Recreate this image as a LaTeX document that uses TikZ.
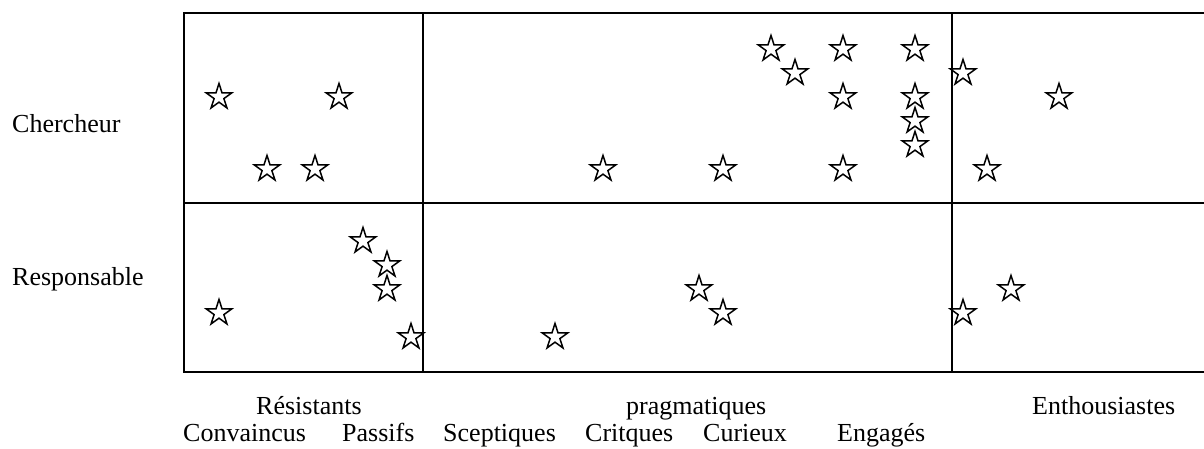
\documentclass[tikz,border=0pt]{standalone}
\usepackage{fontspec}
\setmainfont{Liberation Serif}
\usetikzlibrary{shapes.geometric}
\begin{document}
\begin{tikzpicture}[x=1pt,y=-1pt,
  frame/.style={line width=2pt},
  st/.style={star,star points=5,star point ratio=2.618,draw,line width=1.5pt,minimum size=27pt,inner sep=0pt,fill=white},
  lab/.style={anchor=base west,inner sep=0pt,font=\fontsize{26pt}{30pt}\selectfont}]
\useasboundingbox (0,0) rectangle (1204,448);
% frame
\coordinate (tl) at (184,12.5);
\coordinate (tr) at (1205,12.5);
\coordinate (ml) at (184,203);
\coordinate (mr) at (1205,203);
\coordinate (bl) at (184,372);
\coordinate (br) at (1205,372);
\coordinate (v1t) at (423,12.5);
\coordinate (v1b) at (423,372);
\coordinate (v2t) at (952,12.5);
\coordinate (v2b) at (952,372);
\draw[frame] (tr) -- (tl) -- (bl) -- (br);
\draw[frame] (ml) -- (mr);
\draw[frame] (v1t) -- (v1b);
\draw[frame] (v2t) -- (v2b);
% stars, top row
\node[st] (s1) at (219,97) {};
\node[st] (s2) at (339,97) {};
\node[st] (s3) at (267,169) {};
\node[st] (s4) at (315,169) {};
\node[st] (s5) at (603,169) {};
\node[st] (s6) at (723,169) {};
\node[st] (s7) at (771,49) {};
\node[st] (s8) at (795,73) {};
\node[st] (s9) at (843,49) {};
\node[st] (s10) at (843,97) {};
\node[st] (s11) at (843,169) {};
\node[st] (s12) at (915,49) {};
\node[st] (s13) at (915,97) {};
\node[st] (s14) at (915,121) {};
\node[st] (s15) at (915,145) {};
\node[st] (s16) at (963,73) {};
\node[st] (s17) at (1059,97) {};
\node[st] (s18) at (987,169) {};
% stars, bottom row
\node[st] (s19) at (363,241) {};
\node[st] (s20) at (387,265) {};
\node[st] (s21) at (387,289) {};
\node[st] (s22) at (219,313) {};
\node[st] (s23) at (411,337) {};
\node[st] (s24) at (699,289) {};
\node[st] (s25) at (723,313) {};
\node[st] (s26) at (555,337) {};
\node[st] (s27) at (1011,289) {};
\node[st] (s28) at (963,313) {};
% labels
\node[lab] (chercheur) at (12,132) {Chercheur};
\node[lab] (responsable) at (12,285) {Responsable};
\node[lab] (resistants) at (256,414) {Résistants};
\node[lab] (pragmatiques) at (626,414) {pragmatiques};
\node[lab] (enthousiastes) at (1032,414) {Enthousiastes};
\node[lab] (convaincus) at (183,441) {Convaincus};
\node[lab] (passifs) at (342,441) {Passifs};
\node[lab] (sceptiques) at (443,441) {Sceptiques};
\node[lab] (critques) at (585,441) {Critques};
\node[lab] (curieux) at (703,441) {Curieux};
\node[lab] (engages) at (837,441) {Engagés};
\end{tikzpicture}
\end{document}
